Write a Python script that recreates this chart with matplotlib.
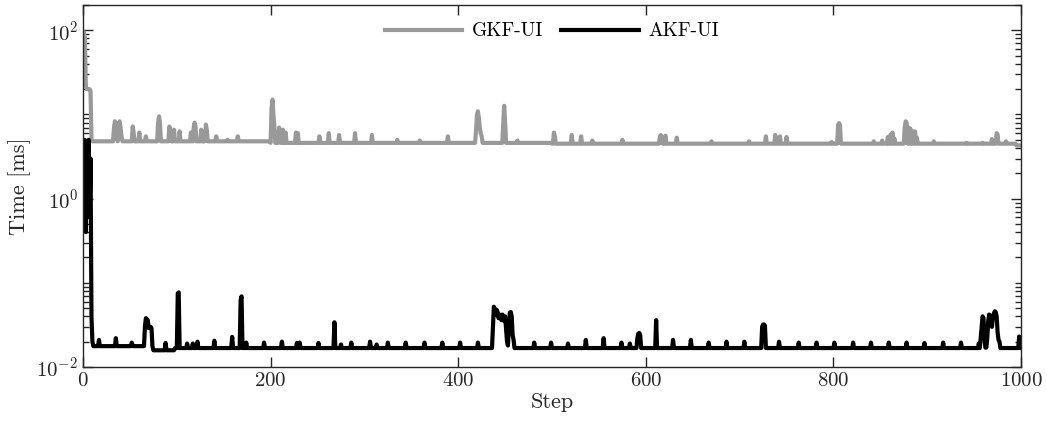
import numpy as np
import matplotlib
matplotlib.use("Agg")
import matplotlib.pyplot as plt
from matplotlib.ticker import LogLocator, NullLocator, NullFormatter

plt.rcParams["font.family"] = "serif"
plt.rcParams["font.serif"] = ["cmr10"]
plt.rcParams["mathtext.fontset"] = "cm"
plt.rcParams["axes.formatter.use_mathtext"] = True

n_steps = 1001

# GKF-UI: warm-up steps, baseline levels and peaks (ms)
gkf_start = [30, 95, 80, 22, 20, 20, 20, 20, 19, 5.0]
gkf_level_from = [10, 200, 500, 995]
gkf_level_val = [4.8, 4.6, 4.5, 4.3]
gkf_peak_steps = [33, 34, 35, 36, 38, 39, 40, 41, 53, 54, 60, 67, 80, 81, 82, 92, 93, 97,
                  103, 115, 118, 119, 120, 126, 131, 132, 142, 154, 165, 201, 202, 203,
                  204, 209, 210, 213, 216, 227, 229, 252, 262, 273, 290, 308, 335, 359,
                  389, 419, 420, 421, 422, 423, 424, 425, 448, 449, 450, 463, 502, 503,
                  521, 531, 543, 575, 615, 616, 617, 621, 633, 670, 710, 728, 738, 743,
                  750, 798, 805, 806, 807, 843, 852, 858, 861, 863, 865, 876, 877, 878,
                  880, 882, 885, 887, 889, 907, 942, 959, 969, 974, 975, 984]
gkf_peak_vals = [7.0, 8.3, 7.5, 6.0, 7.5, 8.3, 7.0, 5.5, 7.2, 6.0, 6.1, 5.5, 8.0, 9.5, 8.0,
                 7.2, 6.5, 6.6, 6.3, 6.1, 7.0, 8.0, 7.0, 6.6, 7.6, 6.5, 5.5, 5.0, 5.5, 12.0,
                 15.0, 10.0, 7.0, 7.0, 6.2, 6.6, 6.1, 6.1, 6.0, 5.5, 6.0, 5.7, 6.0, 5.7,
                 5.0, 4.9, 5.5, 6.5, 10.0, 10.9, 9.0, 7.0, 6.0, 5.5, 8.0, 12.7, 8.0, 4.9,
                 6.1, 5.5, 5.7, 5.5, 4.9, 5.0, 5.5, 5.7, 5.5, 5.6, 5.3, 4.8, 4.8, 5.5, 5.7,
                 5.5, 5.4, 4.7, 7.5, 7.9, 7.5, 4.8, 4.9, 5.4, 5.8, 6.1, 5.2, 7.0, 8.3, 8.0,
                 7.0, 6.8, 6.3, 6.3, 5.3, 4.8, 4.6, 4.6, 5.1, 6.0, 5.8, 4.8]

# AKF-UI: warm-up steps, baseline levels and peaks (ms)
akf_start = [4.5, 0.5, 5.0, 0.4, 4.8, 1.0, 5.0, 0.6, 3.0, 0.04, 0.02]
akf_level_from = [11, 75, 98]
akf_level_val = [0.0177, 0.0158, 0.0168]
akf_peak_steps = [17, 35, 52, 66, 67, 68, 69, 70, 71, 72, 73, 88, 101, 102, 111, 117, 122,
                  140, 159, 168, 169, 174, 193, 212, 228, 231, 251, 268, 275, 286, 306,
                  313, 325, 344, 364, 383, 402, 421,
                  437, 438, 439, 440, 441, 442, 443, 444, 445, 446, 447, 448, 449, 450,
                  451, 452, 453, 454, 455, 456, 457, 458, 459,
                  481, 499, 517, 536, 555, 574, 583, 591, 592, 593, 594, 611, 629, 648,
                  667, 686, 705, 724, 725, 726, 727, 742, 763, 782, 801, 821, 840, 859,
                  878, 897, 917, 936, 955,
                  957, 958, 959, 960, 961, 962, 963, 964, 965, 966, 967, 968, 969, 970,
                  971, 972, 973, 974, 975, 976, 977, 998]
akf_peak_vals = [0.021, 0.022, 0.0195, 0.030, 0.038, 0.037, 0.036, 0.029, 0.030, 0.030,
                 0.029, 0.0193, 0.075, 0.077, 0.019, 0.019, 0.020, 0.0205, 0.0228, 0.062,
                 0.069, 0.0195, 0.0195, 0.020, 0.0193, 0.0195, 0.0193, 0.034, 0.0185,
                 0.0195, 0.020, 0.0185, 0.0195, 0.0195, 0.0195, 0.0195, 0.0195, 0.0195,
                 0.030, 0.052, 0.048, 0.042, 0.048, 0.045, 0.038, 0.042, 0.040, 0.036,
                 0.042, 0.040, 0.035, 0.040, 0.028, 0.020, 0.018, 0.030, 0.044, 0.045,
                 0.040, 0.024, 0.021,
                 0.0195, 0.0195, 0.019, 0.021, 0.022, 0.0195, 0.019, 0.022, 0.025, 0.0254,
                 0.024, 0.036, 0.021, 0.021, 0.0195, 0.020, 0.020, 0.030, 0.032, 0.032,
                 0.031, 0.020, 0.0195, 0.0195, 0.0195, 0.0195, 0.0195, 0.0195, 0.0195,
                 0.0193, 0.0195, 0.0195, 0.019,
                 0.022, 0.030, 0.040, 0.038, 0.022, 0.017, 0.017, 0.022, 0.035, 0.042,
                 0.041, 0.036, 0.030, 0.040, 0.043, 0.046, 0.045, 0.040, 0.026, 0.021,
                 0.020, 0.023]


def build(start, level_from, level_val, peak_steps, peak_vals):
    y = np.zeros(n_steps)
    for i, s in enumerate(level_from):
        y[s:] = level_val[i]
    y[:len(start)] = start
    y[peak_steps] = peak_vals
    return y


step = np.arange(n_steps)
gkf = build(gkf_start, gkf_level_from, gkf_level_val, gkf_peak_steps, gkf_peak_vals)
akf = build(akf_start, akf_level_from, akf_level_val, akf_peak_steps, akf_peak_vals)

fig = plt.figure(figsize=(10.47, 4.26), dpi=100)
ax = fig.add_axes([0.0793, 0.1385, 0.8959, 0.8498])

ax.plot(step, gkf, color="0.6", lw=3.0, label="GKF-UI")
ax.plot(step, akf, color="black", lw=3.0, label="AKF-UI")

ax.set_yscale("log")
ax.set_xlim(0, 1000)
ax.set_ylim(1e-2, 200)
ax.set_xticks([0, 200, 400, 600, 800, 1000])
ax.xaxis.set_minor_locator(NullLocator())
ax.set_yticks([1e-2, 1e0, 1e2])
ax.yaxis.set_minor_locator(LogLocator(base=10, subs=np.arange(1, 10), numticks=20))
ax.yaxis.set_minor_formatter(NullFormatter())
ax.tick_params(which="both", direction="in", top=True, right=True, labelsize=15,
               width=1.0, colors="0.15", labelcolor="0.15")
ax.tick_params(which="major", length=7)
ax.tick_params(which="minor", length=4)
for sp in ax.spines.values():
    sp.set_linewidth(1.0)
    sp.set_color("0.15")

ax.set_xlabel("Step", fontsize=16, color="0.15", labelpad=2)
ax.set_ylabel("Time [ms]", fontsize=16, color="0.15", labelpad=4)

ax.legend(loc="upper center", ncol=2, frameon=False, fontsize=14, handlelength=4.0,
          columnspacing=0.9, handletextpad=0.5, bbox_to_anchor=(0.5, 1.0))

fig.savefig("out.png", dpi=100)
